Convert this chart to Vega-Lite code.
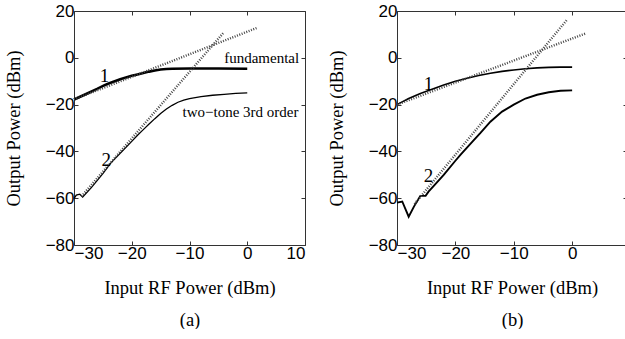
{
  "$schema": "https://vega.github.io/schema/vega-lite/v6.json",
  "background": "white",
  "padding": {"left": 3, "top": 1, "right": 0, "bottom": 0},
  "spacing": 20,
  "config": {
    "view": {"stroke": "#333", "strokeWidth": 1},
    "axis": {
      "domain": false, "grid": false,
      "tickColor": "#333", "tickSize": -4, "tickWidth": 1,
      "labelFont": "Liberation Sans, Arial, sans-serif", "labelFontSize": 17, "labelColor": "black", "labelPadding": 4,
      "titleFont": "Liberation Serif, Times New Roman, serif", "titleFontSize": 18.5, "titleFontWeight": "normal", "titleColor": "black"
    }
  },
  "datasets": {
    "curves": [
      {"panel": "a", "kind": "fund", "x": -30, "y": -17.8},
      {"panel": "a", "kind": "fund", "x": -28, "y": -15.6},
      {"panel": "a", "kind": "fund", "x": -26, "y": -13.3},
      {"panel": "a", "kind": "fund", "x": -24.7, "y": -11.7},
      {"panel": "a", "kind": "fund", "x": -24, "y": -11.0},
      {"panel": "a", "kind": "fund", "x": -22, "y": -9.2},
      {"panel": "a", "kind": "fund", "x": -20, "y": -7.7},
      {"panel": "a", "kind": "fund", "x": -19, "y": -7.1},
      {"panel": "a", "kind": "fund", "x": -18, "y": -6.5},
      {"panel": "a", "kind": "fund", "x": -17, "y": -5.9},
      {"panel": "a", "kind": "fund", "x": -16, "y": -5.4},
      {"panel": "a", "kind": "fund", "x": -15, "y": -5.0},
      {"panel": "a", "kind": "fund", "x": -14, "y": -4.8},
      {"panel": "a", "kind": "fund", "x": -13, "y": -4.7},
      {"panel": "a", "kind": "fund", "x": -10, "y": -4.6},
      {"panel": "a", "kind": "fund", "x": -5, "y": -4.6},
      {"panel": "a", "kind": "fund", "x": 0, "y": -4.7},
      {"panel": "a", "kind": "third", "x": -30, "y": -60.2},
      {"panel": "a", "kind": "third", "x": -29.6, "y": -58.7},
      {"panel": "a", "kind": "third", "x": -29.0, "y": -58.3},
      {"panel": "a", "kind": "third", "x": -28.5, "y": -59.5},
      {"panel": "a", "kind": "third", "x": -27, "y": -55.5},
      {"panel": "a", "kind": "third", "x": -25, "y": -49.5},
      {"panel": "a", "kind": "third", "x": -23.6, "y": -44.9},
      {"panel": "a", "kind": "third", "x": -22, "y": -40.8},
      {"panel": "a", "kind": "third", "x": -20, "y": -35.7},
      {"panel": "a", "kind": "third", "x": -19, "y": -33.1},
      {"panel": "a", "kind": "third", "x": -18, "y": -30.7},
      {"panel": "a", "kind": "third", "x": -17, "y": -28.3},
      {"panel": "a", "kind": "third", "x": -16, "y": -26.0},
      {"panel": "a", "kind": "third", "x": -15, "y": -23.8},
      {"panel": "a", "kind": "third", "x": -14, "y": -21.9},
      {"panel": "a", "kind": "third", "x": -13, "y": -20.3},
      {"panel": "a", "kind": "third", "x": -12, "y": -19.0},
      {"panel": "a", "kind": "third", "x": -11, "y": -18.1},
      {"panel": "a", "kind": "third", "x": -10, "y": -17.4},
      {"panel": "a", "kind": "third", "x": -8, "y": -16.6},
      {"panel": "a", "kind": "third", "x": -6, "y": -16.0},
      {"panel": "a", "kind": "third", "x": -4, "y": -15.6},
      {"panel": "a", "kind": "third", "x": -2, "y": -15.2},
      {"panel": "a", "kind": "third", "x": 0, "y": -15.0},
      {"panel": "a", "kind": "fit1", "x": -30, "y": -17.8},
      {"panel": "a", "kind": "fit1", "x": 1.8, "y": 12.9},
      {"panel": "a", "kind": "fit3", "x": -28.7, "y": -59.2},
      {"panel": "a", "kind": "fit3", "x": -4.1, "y": 10.75},
      {"panel": "b", "kind": "fund", "x": -30, "y": -20.0},
      {"panel": "b", "kind": "fund", "x": -28, "y": -17.4},
      {"panel": "b", "kind": "fund", "x": -26, "y": -15.3},
      {"panel": "b", "kind": "fund", "x": -24, "y": -13.4},
      {"panel": "b", "kind": "fund", "x": -22, "y": -11.6},
      {"panel": "b", "kind": "fund", "x": -20, "y": -10.0},
      {"panel": "b", "kind": "fund", "x": -18, "y": -8.7},
      {"panel": "b", "kind": "fund", "x": -16, "y": -7.6},
      {"panel": "b", "kind": "fund", "x": -14, "y": -6.6},
      {"panel": "b", "kind": "fund", "x": -12, "y": -5.8},
      {"panel": "b", "kind": "fund", "x": -10, "y": -5.2},
      {"panel": "b", "kind": "fund", "x": -8, "y": -4.7},
      {"panel": "b", "kind": "fund", "x": -6, "y": -4.3},
      {"panel": "b", "kind": "fund", "x": -4, "y": -4.1},
      {"panel": "b", "kind": "fund", "x": -2, "y": -4.0},
      {"panel": "b", "kind": "fund", "x": 0, "y": -4.0},
      {"panel": "b", "kind": "third", "x": -30, "y": -61.9},
      {"panel": "b", "kind": "third", "x": -29.1, "y": -61.4},
      {"panel": "b", "kind": "third", "x": -28.0, "y": -67.9},
      {"panel": "b", "kind": "third", "x": -27.1, "y": -63.6},
      {"panel": "b", "kind": "third", "x": -26.0, "y": -59.0},
      {"panel": "b", "kind": "third", "x": -25.1, "y": -59.0},
      {"panel": "b", "kind": "third", "x": -24.6, "y": -57.2},
      {"panel": "b", "kind": "third", "x": -23.7, "y": -54.7},
      {"panel": "b", "kind": "third", "x": -22, "y": -50.0},
      {"panel": "b", "kind": "third", "x": -20, "y": -44.0},
      {"panel": "b", "kind": "third", "x": -19.1, "y": -41.4},
      {"panel": "b", "kind": "third", "x": -17, "y": -35.6},
      {"panel": "b", "kind": "third", "x": -15.7, "y": -32.1},
      {"panel": "b", "kind": "third", "x": -14, "y": -27.3},
      {"panel": "b", "kind": "third", "x": -12, "y": -23.0},
      {"panel": "b", "kind": "third", "x": -10, "y": -20.0},
      {"panel": "b", "kind": "third", "x": -8, "y": -17.4},
      {"panel": "b", "kind": "third", "x": -6, "y": -15.8},
      {"panel": "b", "kind": "third", "x": -4, "y": -14.7},
      {"panel": "b", "kind": "third", "x": -2, "y": -14.1},
      {"panel": "b", "kind": "third", "x": 0, "y": -13.9},
      {"panel": "b", "kind": "fit1", "x": -30, "y": -20.0},
      {"panel": "b", "kind": "fit1", "x": 2.3, "y": 10.4},
      {"panel": "b", "kind": "fit3", "x": -27, "y": -62.5},
      {"panel": "b", "kind": "fit3", "x": -0.86, "y": 16.3}
    ],
    "labels": [
      {"panel": "a", "kind": "num", "label": "1", "x": -24.7, "y": -7.8},
      {"panel": "a", "kind": "num", "label": "2", "x": -24.4, "y": -43.5},
      {"panel": "a", "kind": "desc", "label": "fundamental", "x": -4.0, "y": -0.2},
      {"panel": "a", "kind": "desc", "label": "two−tone 3rd order", "x": -11.2, "y": -23.2},
      {"panel": "b", "kind": "num", "label": "1", "x": -24.6, "y": -11.4},
      {"panel": "b", "kind": "num", "label": "2", "x": -24.6, "y": -50.7}
    ]
  },
  "hconcat": [
    {
      "width": 231, "height": 234,
      "resolve": {"axis": {"x": "independent", "y": "independent"}},
      "layer": [
        {
          "data": {"name": "curves"},
          "transform": [{"filter": "datum.panel === 'a' && datum.kind === 'fund'"}],
          "mark": {"type": "line", "color": "black", "strokeWidth": 2.6},
          "encoding": {
            "x": {"field": "x", "type": "quantitative", "scale": {"domain": [-30, 10], "nice": false},
                  "axis": {"values": [-30, -20, -10, 0, 10], "title": ["Input RF Power (dBm)", "(a)"], "titleLineHeight": 32, "titlePadding": 17}},
            "y": {"field": "y", "type": "quantitative", "scale": {"domain": [-80, 20], "nice": false},
                  "axis": {"values": [-80, -60, -40, -20, 0, 20], "title": "Output Power (dBm)", "titlePadding": 22}}
          }
        },
        {
          "data": {"name": "curves"},
          "transform": [{"filter": "datum.panel === 'a' && datum.kind === 'third'"}],
          "mark": {"type": "line", "color": "black", "strokeWidth": 1.3},
          "encoding": {
            "x": {"field": "x", "type": "quantitative", "axis": null},
            "y": {"field": "y", "type": "quantitative", "axis": null}
          }
        },
        {
          "data": {"name": "curves"},
          "transform": [{"filter": "datum.panel === 'a' && (datum.kind === 'fit1' || datum.kind === 'fit3')"}],
          "mark": {"type": "line", "color": "#444", "strokeWidth": 2.4, "strokeDash": [1, 1.5]},
          "encoding": {
            "detail": {"field": "kind"},
            "x": {"field": "x", "type": "quantitative",
                  "axis": {"orient": "top", "labels": false, "title": null, "values": [-30, -20, -10, 0, 10]}},
            "y": {"field": "y", "type": "quantitative",
                  "axis": {"orient": "right", "labels": false, "title": null, "values": [-80, -60, -40, -20, 0, 20]}}
          }
        },
        {
          "data": {"name": "labels"},
          "transform": [{"filter": "datum.panel === 'a' && datum.kind === 'num'"}],
          "mark": {"type": "text", "font": "Liberation Serif, Times New Roman, serif", "fontSize": 19, "color": "black", "align": "center", "baseline": "middle"},
          "encoding": {
            "x": {"field": "x", "type": "quantitative", "axis": null},
            "y": {"field": "y", "type": "quantitative", "axis": null},
            "text": {"field": "label"}
          }
        },
        {
          "data": {"name": "labels"},
          "transform": [{"filter": "datum.panel === 'a' && datum.kind === 'desc'"}],
          "mark": {"type": "text", "font": "Liberation Serif, Times New Roman, serif", "fontSize": 15, "color": "black", "align": "left", "baseline": "middle"},
          "encoding": {
            "x": {"field": "x", "type": "quantitative", "axis": null},
            "y": {"field": "y", "type": "quantitative", "axis": null},
            "text": {"field": "label"}
          }
        }
      ]
    },
    {
      "width": 230, "height": 234,
      "resolve": {"axis": {"x": "independent", "y": "independent"}},
      "layer": [
        {
          "data": {"name": "curves"},
          "transform": [{"filter": "datum.panel === 'b' && datum.kind === 'fund'"}],
          "mark": {"type": "line", "color": "black", "strokeWidth": 1.6},
          "encoding": {
            "x": {"field": "x", "type": "quantitative", "scale": {"domain": [-30, 9.4], "nice": false},
                  "axis": {"values": [-30, -20, -10, 0], "title": ["Input RF Power (dBm)", "(b)"], "titleLineHeight": 32, "titlePadding": 17}},
            "y": {"field": "y", "type": "quantitative", "scale": {"domain": [-80, 20], "nice": false},
                  "axis": {"values": [-80, -60, -40, -20, 0, 20], "title": "Output Power (dBm)", "titlePadding": 22}}
          }
        },
        {
          "data": {"name": "curves"},
          "transform": [{"filter": "datum.panel === 'b' && datum.kind === 'third'"}],
          "mark": {"type": "line", "color": "black", "strokeWidth": 1.9},
          "encoding": {
            "x": {"field": "x", "type": "quantitative", "axis": null},
            "y": {"field": "y", "type": "quantitative", "axis": null}
          }
        },
        {
          "data": {"name": "curves"},
          "transform": [{"filter": "datum.panel === 'b' && (datum.kind === 'fit1' || datum.kind === 'fit3')"}],
          "mark": {"type": "line", "color": "#444", "strokeWidth": 2.4, "strokeDash": [1, 1.5]},
          "encoding": {
            "detail": {"field": "kind"},
            "x": {"field": "x", "type": "quantitative",
                  "axis": {"orient": "top", "labels": false, "title": null, "values": [-30, -20, -10, 0]}},
            "y": {"field": "y", "type": "quantitative",
                  "axis": {"orient": "right", "labels": false, "title": null, "values": [-80, -60, -40, -20, 0, 20]}}
          }
        },
        {
          "data": {"name": "labels"},
          "transform": [{"filter": "datum.panel === 'b' && datum.kind === 'num'"}],
          "mark": {"type": "text", "font": "Liberation Serif, Times New Roman, serif", "fontSize": 19, "color": "black", "align": "center", "baseline": "middle"},
          "encoding": {
            "x": {"field": "x", "type": "quantitative", "axis": null},
            "y": {"field": "y", "type": "quantitative", "axis": null},
            "text": {"field": "label"}
          }
        }
      ]
    }
  ]
}
